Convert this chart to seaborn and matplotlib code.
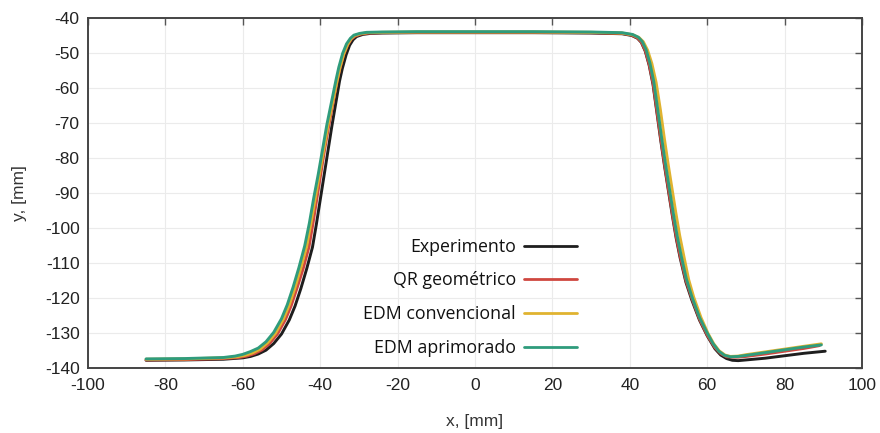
import matplotlib
matplotlib.use("Agg")
import matplotlib.pyplot as plt
import seaborn as sns
import pandas as pd

# ---------------- data ----------------
labels = ["Experimento", "QR geométrico", "EDM convencional", "EDM aprimorado"]
colors = ["#1e1e1e", "#cf4740", "#e0b330", "#2f9c7c"]

x_exp = [-85, -75, -65, -60, -58, -56, -54, -52, -50, -48, -46.5, -45, -43.5, -42, -41, -40, -39, -38, -37, -36,
         -35, -34.3, -33.3, -32.4, -31.5, -30.6, -29, -27, -24, -15, 0, 15, 30, 38, 40.5, 42, 43, 44, 45, 46,
         47, 48, 49, 50, 51, 52, 53, 54.5, 56, 58, 60, 62, 63.5, 65, 66.5, 68, 70, 75, 80, 85, 90.5]
y_exp = [-137.8, -137.7, -137.5, -137.1, -136.7, -136.0, -134.9, -133.0, -130.3, -126.3, -122.3, -117.3, -111.7,
         -105.5, -99, -92, -85, -78, -71, -64.5, -58, -54.5, -50.5, -47.8, -46.2, -45.3, -44.7, -44.4, -44.3, -44.2,
         -44.2, -44.2, -44.3, -44.5, -45.0, -45.8, -47, -49.5, -53.5, -59, -67, -75, -82.5, -89.5, -96.5, -103,
         -108.5, -115.5, -120.5, -126.3, -130.8, -134.5, -136.3, -137.3, -137.8, -137.9, -137.7, -137.2, -136.5,
         -135.8, -135.2]

x_qr = [-85, -75, -65, -61, -59, -57, -55, -53, -51, -49, -47.5, -46, -44.4, -42.9, -41.9, -40.9, -39.9, -38.9,
        -37.8, -36.7, -35.6, -34.9, -33.9, -32.9, -32.0, -31.0, -29.5, -27.5, -24, -15, 0, 15, 30, 38, 40.5, 42,
        43, 44, 45, 46, 47, 48, 49, 50, 51, 52, 53, 54.5, 56, 58, 60, 62, 63.5, 65, 66.5, 68, 70, 75, 80, 85, 89]
y_qr = [-137.7, -137.6, -137.3, -137.0, -136.6, -135.9, -134.8, -132.9, -130.2, -126.2, -122.2, -117.2, -111.6,
        -105.4, -98.9, -91.9, -84.9, -77.9, -70.9, -64.4, -57.9, -54.4, -50.4, -47.7, -46.1, -45.2, -44.6, -44.3,
        -44.2, -44.1, -44.1, -44.1, -44.2, -44.4, -44.9, -45.7, -46.9, -49.3, -53.2, -58.6, -66.5, -74.5, -82,
        -89, -96, -102.5, -108, -115, -120, -126, -130.6, -134.2, -135.9, -136.8, -136.9, -136.9, -136.7, -136.0,
        -135.2, -134.4, -133.6]

x_conv = [-85, -75, -65, -61.5, -59.5, -57.5, -55.5, -53.5, -51.5, -49.5, -48, -46.5, -45, -43.5, -42.4, -41.3,
          -40.2, -39.1, -38.0, -36.8, -35.6, -34.9, -33.9, -32.9, -32.0, -31.1, -29.6, -27.8, -24, -15, 0, 15, 30,
          38, 40.8, 42.4, 43.5, 44.6, 45.7, 46.8, 47.9, 48.9, 49.9, 50.9, 51.9, 52.9, 53.9, 55.2, 56.5, 58.4, 60.2,
          61.7, 63.1, 64.6, 66, 68, 70, 75, 80, 85, 89.5]
y_conv = [-137.5, -137.4, -137.1, -136.8, -136.4, -135.7, -134.6, -132.7, -130.0, -126.0, -122.0, -117.0, -111.4,
          -105.2, -98.7, -91.7, -84.7, -77.7, -70.7, -64.2, -57.7, -54.2, -50.2, -47.5, -45.9, -45.0, -44.5, -44.2,
          -44.1, -44.0, -44.0, -44.0, -44.1, -44.3, -44.8, -45.6, -46.8, -49.2, -53.0, -58.4, -66.2, -74.2, -81.7,
          -88.7, -95.7, -102.2, -107.7, -114.7, -119.7, -125.6, -130.1, -133.1, -135.1, -136.3, -136.7, -136.6,
          -136.2, -135.4, -134.6, -133.8, -133.1]

x_apr = [-85, -75, -65, -62, -60, -58, -56, -54, -52, -50, -48.5, -47, -45.5, -44, -42.8, -41.7, -40.5, -39.4,
         -38.3, -37.1, -35.9, -35.2, -34.2, -33.2, -32.2, -31.3, -29.8, -28, -24, -15, 0, 15, 30, 38, 40.7, 42.2,
         43.2, 44.2, 45.2, 46.2, 47.2, 48.2, 49.2, 50.2, 51.2, 52.2, 53.2, 54.6, 56, 58, 60, 61.5, 63, 64.5, 66,
         68, 70, 75, 80, 85, 89.5]
y_apr = [-137.4, -137.3, -137.0, -136.6, -136.1, -135.3, -134.3, -132.5, -129.8, -125.9, -121.9, -116.9, -111.3,
         -105.1, -98.6, -91.6, -84.6, -77.6, -70.6, -64.1, -57.6, -54.1, -50.1, -47.4, -45.8, -44.9, -44.4, -44.1,
         -44.0, -43.9, -43.9, -43.9, -44.0, -44.2, -44.7, -45.5, -46.7, -49.0, -52.9, -58.2, -66, -74, -81.5,
         -88.5, -95.5, -102, -107.5, -114.5, -119.5, -125.5, -130, -133.0, -135.2, -136.4, -136.8, -136.7, -136.4,
         -135.6, -134.8, -134.0, -133.4]

x_ticks = [-100, -80, -60, -40, -20, 0, 20, 40, 60, 80, 100]
y_ticks = [-140, -130, -120, -110, -100, -90, -80, -70, -60, -50, -40]
x_label = "x, [mm]"
y_label = "y, [mm]"

# ---------------- plot ----------------
sns.set_theme(style="white")
plt.rcParams["font.family"] = ["Liberation Sans", "DejaVu Sans"]

fig = plt.figure(figsize=(8.8, 4.33), dpi=100)
ax = fig.add_axes([88 / 880, 1 - 368 / 433, 774 / 880, 350 / 433])

series = [(x_exp, y_exp), (x_qr, y_qr), (x_conv, y_conv), (x_apr, y_apr)]
for (xs, ys), lab, col in zip(series, labels, colors):
    df = pd.DataFrame({"x": xs, "y": ys})
    sns.lineplot(data=df, x="x", y="y", sort=False, estimator=None, color=col,
                 linewidth=2.1, label=lab, ax=ax)

ax.set_xlim(-100, 100)
ax.set_ylim(-140, -40)
ax.set_xticks(x_ticks)
ax.set_yticks(y_ticks)
ax.set_xticklabels([str(v) for v in x_ticks])
ax.set_yticklabels([str(v) for v in y_ticks])
ax.grid(True, color="#ebebeb", linewidth=0.8)
ax.set_axisbelow(True)

for sp in ax.spines.values():
    sp.set_color("#444444")
    sp.set_linewidth(1.4)

ax.tick_params(axis="both", which="both", direction="in", top=True, right=True,
               length=5, width=1, color="#555555", labelsize=12.5, labelcolor="#222222")
ax.tick_params(axis="x", pad=7)
ax.tick_params(axis="y", pad=6)

ax.set_xlabel(x_label, fontsize=12.5, color="#333333", labelpad=15)
ax.set_ylabel(y_label, fontsize=12.5, color="#333333", labelpad=13)

leg = ax.legend(loc="upper right", bbox_to_anchor=(0.632, 0.372), frameon=False,
                markerfirst=False, borderpad=0, borderaxespad=0,
                handlelength=3.0, handletextpad=0.45, labelspacing=0.88,
                prop={"family": ["Open Sans", "DejaVu Sans"], "size": 12.8})
for t in leg.get_texts():
    t.set_color("#111111")
for h in leg.get_lines():
    h.set_linewidth(2)

fig.savefig("out.png", dpi=100)
